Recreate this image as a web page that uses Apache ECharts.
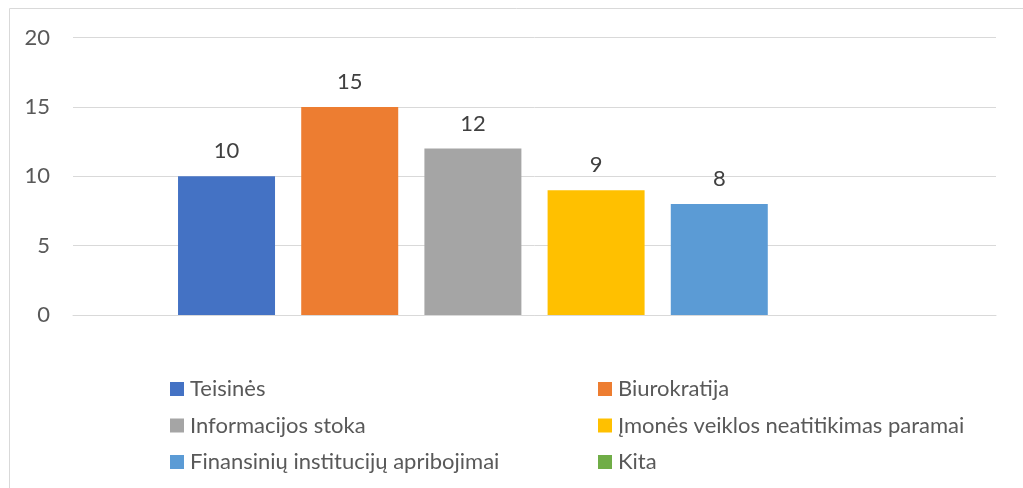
<!DOCTYPE html>
<html>
<head>
<meta charset="utf-8">
<script src="https://cdn.jsdelivr.net/npm/echarts@6/dist/echarts.min.js"></script>
<style>
  html, body { margin: 0; padding: 0; background: #fff; }
  #root { width: 1023px; height: 488px; }
</style>
</head>
<body>
<div id="root"></div>
<script>
// vienintelė kategorija (Excel'io stulpelių grupė)
var categories = [''];
var seriesNames = [
  'Teisinės',
  'Biurokratija',
  'Informacijos stoka',
  'Įmonės veiklos neatitikimas paramai',
  'Finansinių institucijų apribojimai',
  'Kita'
];
// reikšmės pagal seriją, Kita - be stulpelio
var seriesValues = [10, 15, 12, 9, 8, null];
var yTicks = [0, 5, 10, 15, 20];

var colors = ['#4472C4', '#ED7D31', '#A5A5A5', '#FFC000', '#5B9BD5', '#70AD47'];
var fontName = 'Lato';
var textColor = '#595959';

var legendBase = {
  orient: 'vertical',
  top: 378,
  padding: 0,
  itemWidth: 14, itemHeight: 14, itemGap: 14.5,
  icon: 'rect',
  textStyle: { color: textColor, fontSize: 22, fontFamily: fontName, padding: [0, 0, 0, 1] }
};

var option = {
  animation: false,
  textStyle: { fontFamily: fontName },
  graphic: [{
    type: 'rect',
    shape: { x: 9.5, y: 8.5, width: 1100, height: 600 },
    style: { fill: 'none', stroke: '#d9d9d9', lineWidth: 1 }
  }],
  grid: { left: 73, right: 27, top: 37.5, bottom: 173 },
  legend: [
    echarts.util.merge({ left: 170, data: [seriesNames[0], seriesNames[2], seriesNames[4]] }, legendBase),
    echarts.util.merge({ left: 598, data: [seriesNames[1], seriesNames[3], seriesNames[5]] }, legendBase)
  ],
  xAxis: {
    type: 'category',
    data: categories,
    axisLine: { lineStyle: { color: '#d9d9d9', width: 1 } },
    axisTick: { show: false },
    axisLabel: { show: false }
  },
  yAxis: {
    type: 'value',
    min: yTicks[0],
    max: yTicks[yTicks.length - 1],
    interval: 5,
    axisLine: { show: false },
    axisTick: { show: false },
    axisLabel: { color: textColor, fontSize: 22, margin: 23, fontFamily: fontName },
    splitLine: { lineStyle: { color: '#d9d9d9', width: 1 } }
  },
  series: seriesNames.map(function(name, i) {
    return {
      name: name,
      type: 'bar',
      barWidth: 97,
      barGap: '27%',
      itemStyle: { color: colors[i] },
      label: {
        show: true,
        position: 'top',
        distance: 14,
        color: '#404040',
        fontSize: 22,
        fontFamily: fontName
      },
      data: [seriesValues[i]]
    };
  })
};

var myChart = echarts.init(document.getElementById('root'));
myChart.setOption(option);
</script>
</body>
</html>
